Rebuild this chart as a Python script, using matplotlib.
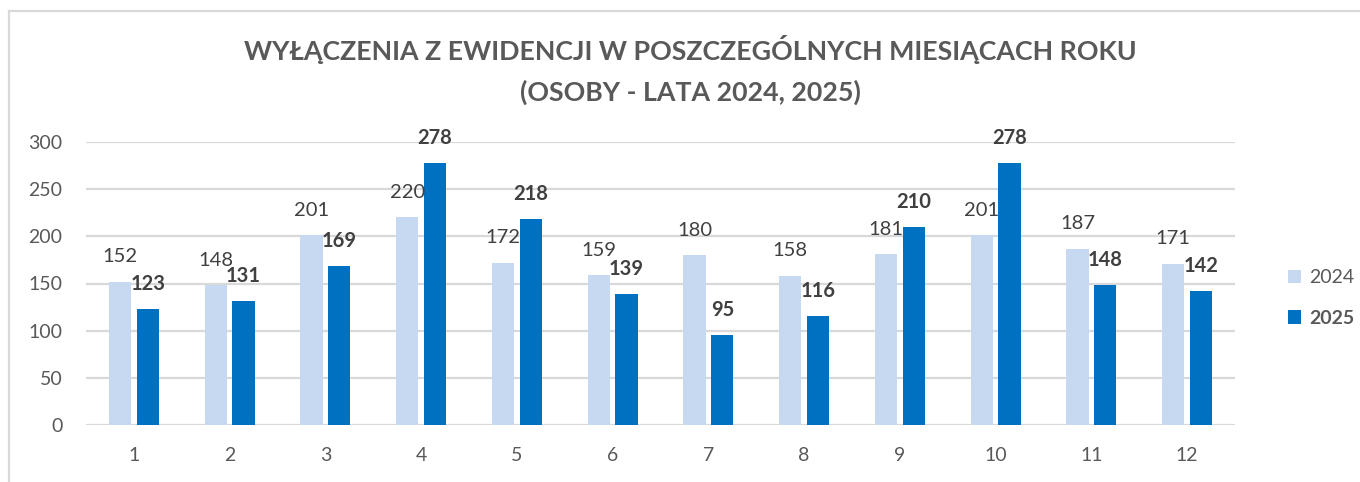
import matplotlib
matplotlib.use("Agg")
import matplotlib.pyplot as plt
import numpy as np
from matplotlib.lines import Line2D

months = ["1", "2", "3", "4", "5", "6", "7", "8", "9", "10", "11", "12"]
values_2024 = [152, 148, 201, 220, 172, 159, 180, 158, 181, 201, 187, 171]
values_2025 = [123, 131, 169, 278, 218, 139, 95, 116, 210, 278, 148, 142]
series_labels = ["2024", "2025"]
title = "WYŁĄCZENIA Z EWIDENCJI W POSZCZEGÓLNYCH MIESIĄCACH ROKU\n(OSOBY - LATA 2024, 2025)"

plt.rcParams["font.family"] = ["Lato", "DejaVu Sans"]

W, H = 1360, 482
fig = plt.figure(figsize=(W / 100, H / 100), dpi=100)
ax = fig.add_axes([86 / W, 1 - 425 / H, (1235 - 86) / W, (425 - 142) / H])

x = np.arange(len(months))
bw = 0.23
off = 0.145
c24, c25 = "#C6D9F0", "#0070C0"
bars24 = ax.bar(x - off, values_2024, bw, color=c24, label=series_labels[0], zorder=3)
bars25 = ax.bar(x + off, values_2025, bw, color=c25, label=series_labels[1], zorder=3)

for rect, v in zip(bars24, values_2024):
    ax.annotate(str(v), (rect.get_x() + rect.get_width() / 2, v), xytext=(0, 18),
                textcoords="offset points", ha="center", va="center",
                fontsize=14.5, color="#404040", clip_on=False)
for rect, v in zip(bars25, values_2025):
    ax.annotate(str(v), (rect.get_x() + rect.get_width() / 2, v), xytext=(0, 18),
                textcoords="offset points", ha="center", va="center",
                fontsize=14.5, color="#404040", fontweight="bold", clip_on=False)

ax.set_xlim(-0.5, len(months) - 0.5)
ax.set_ylim(0, 300)
ax.set_yticks(range(0, 301, 50))
ax.set_xticks(x)
ax.set_xticklabels(months)
ax.tick_params(axis="both", length=0, labelsize=14, labelcolor="#595959")
ax.tick_params(axis="y", pad=17)
ax.tick_params(axis="x", pad=16)
for s in ax.spines.values():
    s.set_visible(False)
ax.yaxis.grid(True, color="#D9D9D9", linewidth=1.6, zorder=0)
ax.set_axisbelow(True)

fig.text(690 / W, 1 - 70 / H, title, ha="center", va="center", fontsize=19.3,
         fontweight="bold", color="#595959", linespacing=1.7)

leg = fig.legend(handles=[bars24, bars25], labels=series_labels, loc="center left",
                 bbox_to_anchor=(1270 / W, 1 - 298 / H), frameon=False, fontsize=14,
                 handlelength=0.7, handleheight=0.7, handletextpad=0.4, labelspacing=1.2)
for t in leg.get_texts():
    t.set_color("#595959")
leg.get_texts()[1].set_fontweight("bold")

# chart frame (top and left edges visible)
fig.add_artist(Line2D([9 / W, 1], [1 - 10.5 / H, 1 - 10.5 / H], color="#D9D9D9", linewidth=1.6))
fig.add_artist(Line2D([9 / W, 9 / W], [0, 1 - 10.5 / H], color="#D9D9D9", linewidth=1.6))

fig.savefig("out.png", dpi=100)
